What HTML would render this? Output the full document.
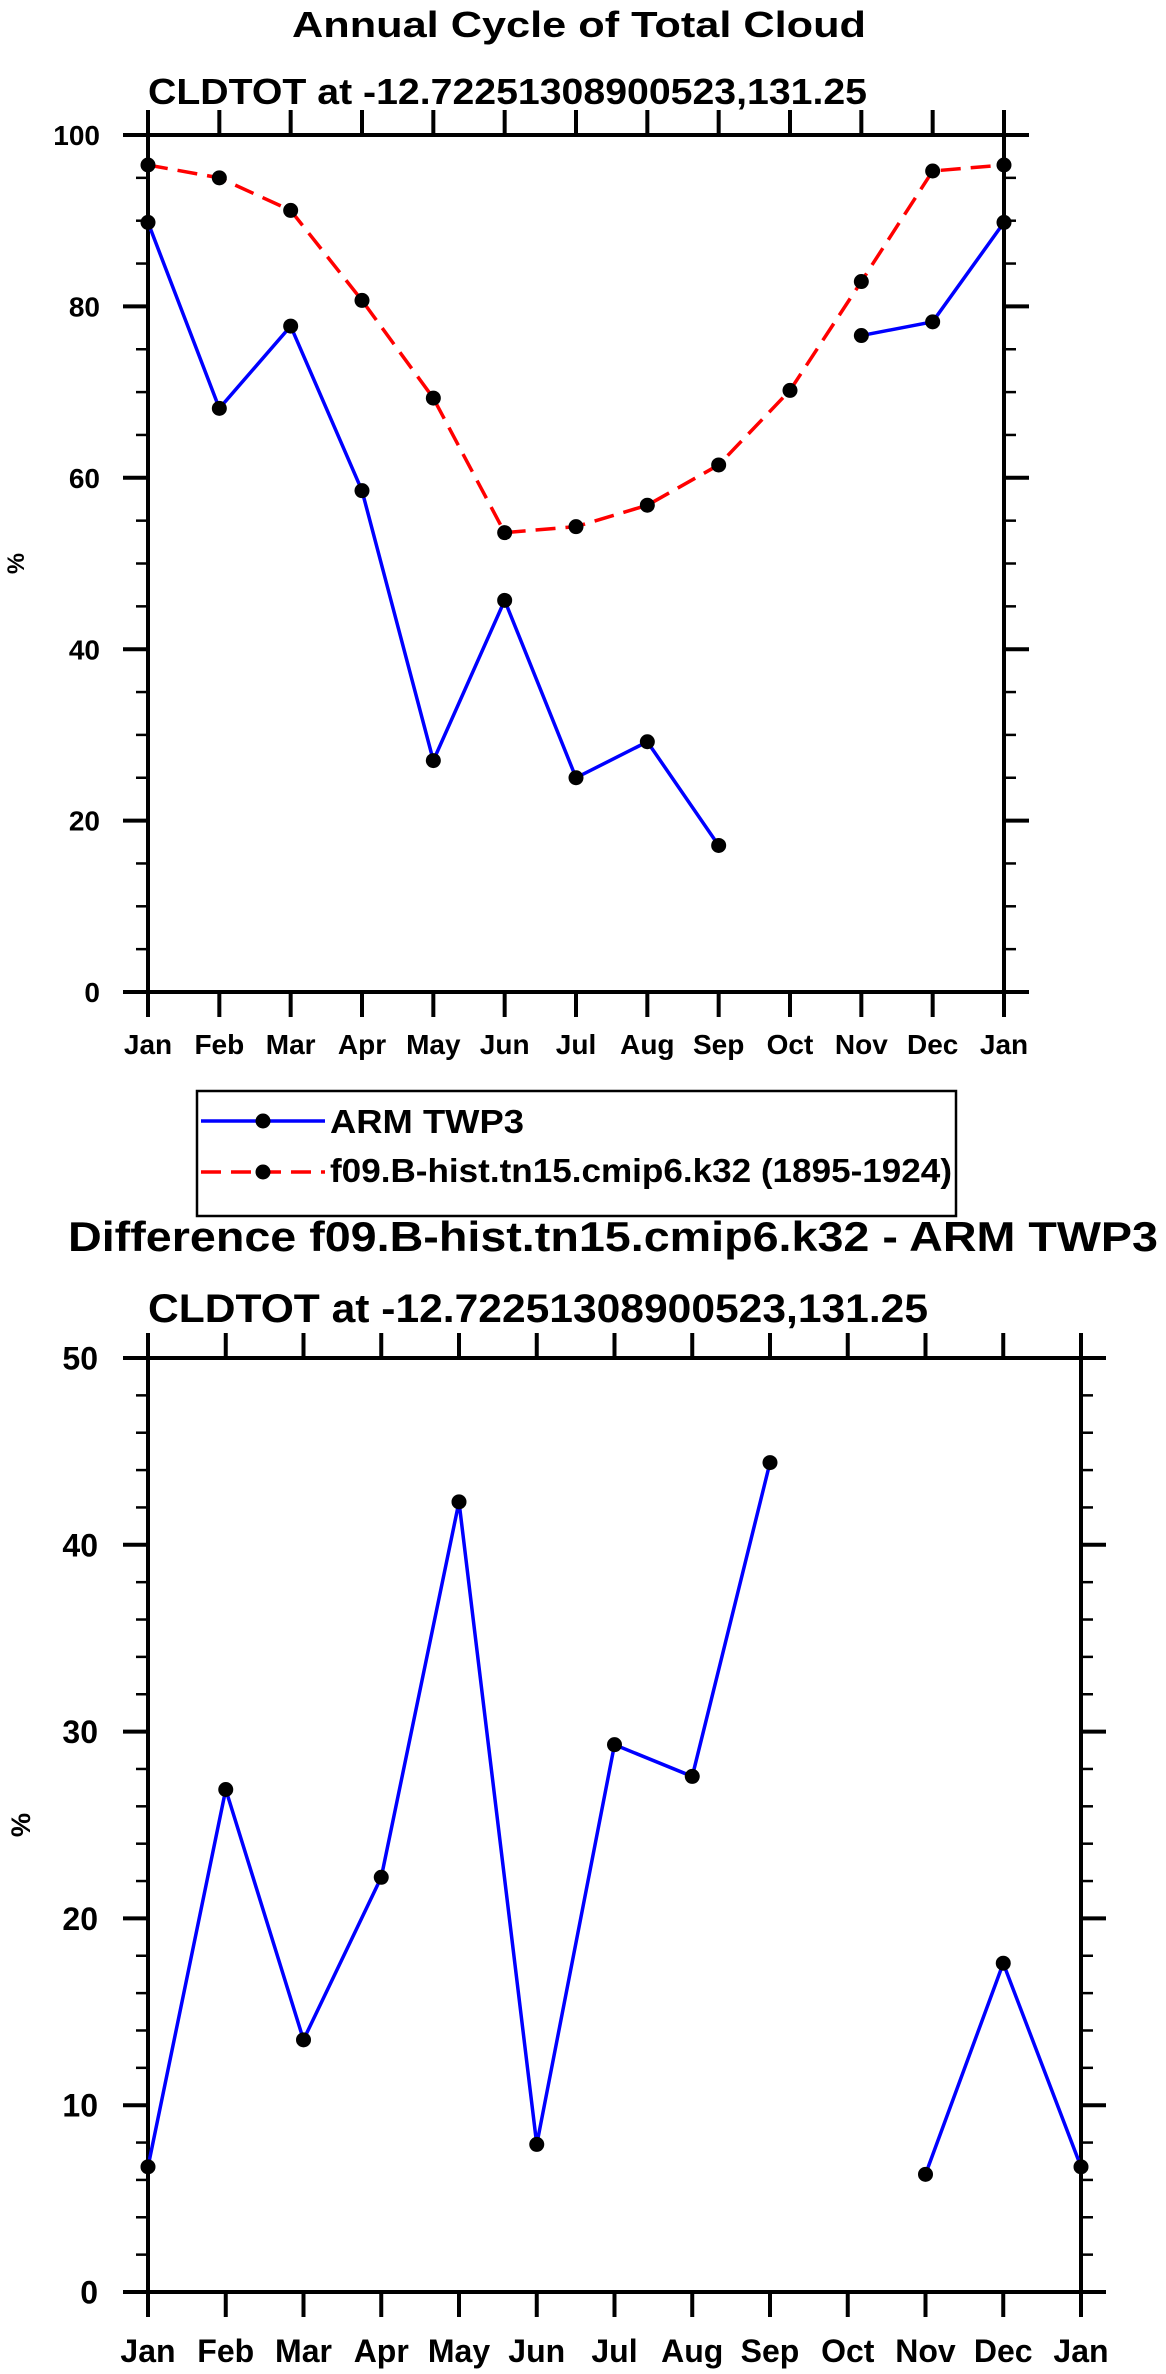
<!DOCTYPE html>
<html><head><meta charset="utf-8"><style>html,body{margin:0;padding:0;background:#fff}svg{display:block}text{font-family:"Liberation Sans",sans-serif;font-weight:bold;fill:#000}</style></head>
<body>
<svg id="fig" width="1166" height="2374" viewBox="0 0 1166 2374" xmlns="http://www.w3.org/2000/svg">
<text x="292" y="37" font-size="36" textLength="574" lengthAdjust="spacingAndGlyphs">Annual Cycle of Total Cloud</text>
<text x="148" y="104" font-size="36" textLength="719" lengthAdjust="spacingAndGlyphs">CLDTOT at -12.72251308900523,131.25</text>
<g id="p1"></g>
<g>
<rect x="197" y="1091" width="759" height="125" fill="none" stroke="#000" stroke-width="2.5"/>
<line x1="201" y1="1121" x2="325" y2="1121" stroke="#0000ff" stroke-width="3.5"/>
<circle cx="263" cy="1121" r="7.5"/>
<text x="330" y="1133" font-size="33" textLength="194" lengthAdjust="spacingAndGlyphs">ARM TWP3</text>
<line x1="201" y1="1172" x2="325" y2="1172" stroke="#ff0000" stroke-width="3.5" stroke-dasharray="20,10"/>
<circle cx="263" cy="1172" r="7.5"/>
<text x="330" y="1182" font-size="33" textLength="622" lengthAdjust="spacingAndGlyphs">f09.B-hist.tn15.cmip6.k32 (1895-1924)</text>
</g>
<text x="68" y="1251" font-size="42" textLength="1090" lengthAdjust="spacingAndGlyphs">Difference f09.B-hist.tn15.cmip6.k32 - ARM TWP3</text>
<text x="148" y="1322" font-size="40" textLength="780" lengthAdjust="spacingAndGlyphs">CLDTOT at -12.72251308900523,131.25</text>
<g id="p2"></g>
</svg>
<script>
const months = ["Jan","Feb","Mar","Apr","May","Jun","Jul","Aug","Sep","Oct","Nov","Dec","Jan"];
const armValues = [89.8,68.1,77.7,58.5,27.0,45.7,25.0,29.2,17.1,null,76.6,78.2,89.8];
const modelValues = [96.5,95.0,91.2,80.7,69.3,53.6,54.3,56.8,61.5,70.2,82.9,95.8,96.5];
const diffValues = [6.7,26.9,13.5,22.2,42.3,7.9,29.3,27.6,44.4,null,6.3,17.6,6.7];
const topYTicks = [0,20,40,60,80,100];
const bottomYTicks = [0,10,20,30,40,50];
const NS="http://www.w3.org/2000/svg";
function mk(parent,tag,attrs){const e=document.createElementNS(NS,tag);for(const k in attrs)e.setAttribute(k,attrs[k]);parent.appendChild(e);return e;}
function plot(g,cfg){
  const {L,R,T,B,ymin,ymax,yticks,minorStep,fs,xlabY,ylabX,pctX,series}=cfg;
  const xs=i=>L+(R-L)*i/(months.length-1);
  const ys=v=>B-(B-T)*(v-ymin)/(ymax-ymin);
  const maj=25,mnr=12;
  const fr=mk(g,'rect',{x:L,y:T,width:R-L,height:B-T,fill:'none',stroke:'#000','stroke-width':4});
  
  
  for(let v=ymin;v<=ymax+1e-9;v+=minorStep){
    if(yticks.some(t=>Math.abs(t-v)<1e-9))continue;
    const y=ys(v);
    const a=mk(g,'line',{x1:L-mnr,y1:y,x2:L,y2:y,stroke:'#000','stroke-width':2.5});
    
    
    const b=mk(g,'line',{x1:R,y1:y,x2:R+mnr,y2:y,stroke:'#000','stroke-width':2.5});
    
    
  }
  yticks.forEach(v=>{
    const y=ys(v);
    const a=mk(g,'line',{x1:L-maj,y1:y,x2:L,y2:y,stroke:'#000','stroke-width':4});
    
    
    const b=mk(g,'line',{x1:R,y1:y,x2:R+maj,y2:y,stroke:'#000','stroke-width':4});
    
    
    const t=mk(g,'text',{x:ylabX,y:y+fs*0.36,'font-size':fs,'text-anchor':'end'});
    t.textContent=v;
    
    
  });
  months.forEach((m,i)=>{
    const x=xs(i);
    const a=mk(g,'line',{x1:x,y1:B,x2:x,y2:B+maj,stroke:'#000','stroke-width':4});
    
    
    const b=mk(g,'line',{x1:x,y1:T-maj,x2:x,y2:T,stroke:'#000','stroke-width':4});
    
    
    const t=mk(g,'text',{x:x,y:xlabY,'font-size':fs,'text-anchor':'middle'});
    t.textContent=m;
    
    
  });
  const yl=mk(g,'text',{x:0,y:0,'font-size':fs*0.85,'text-anchor':'middle',transform:`translate(${pctX},${(T+B)/2}) rotate(-90)`});
  yl.textContent='%';
  
  
  series.forEach(s=>{
    let seg=[];const segs=[];
    s.vals.forEach((v,i)=>{if(v==null){if(seg.length)segs.push(seg);seg=[];}else seg.push([xs(i),ys(v)]);});
    if(seg.length)segs.push(seg);
    segs.forEach(sg=>{
      const p=mk(g,'polyline',{points:sg.map(q=>q.join(',')).join(' '),fill:'none',stroke:s.color,'stroke-width':3.5,'stroke-dasharray':s.dash||'none'});
      
      
    });
    s.vals.forEach((v,i)=>{
      if(v==null)return;
      const c=mk(g,'circle',{cx:xs(i),cy:ys(v),r:7.5,fill:'#000'});
      
      
    });
  });
}
plot(document.getElementById('p1'),{L:148,R:1004,T:135,B:992,ymin:0,ymax:100,yticks:topYTicks,minorStep:5,fs:28,xlabY:1054,ylabX:100,pctX:24,
  series:[{name:'model',vals:modelValues,color:'#ff0000',dash:'20,10'},{name:'arm',vals:armValues,color:'#0000ff'}]});
plot(document.getElementById('p2'),{L:148,R:1081,T:1358,B:2292,ymin:0,ymax:50,yticks:bottomYTicks,minorStep:2,fs:32,xlabY:2362,ylabX:98,pctX:30,
  series:[{name:'difference',vals:diffValues,color:'#0000ff'}]});
</script>
</body></html>
